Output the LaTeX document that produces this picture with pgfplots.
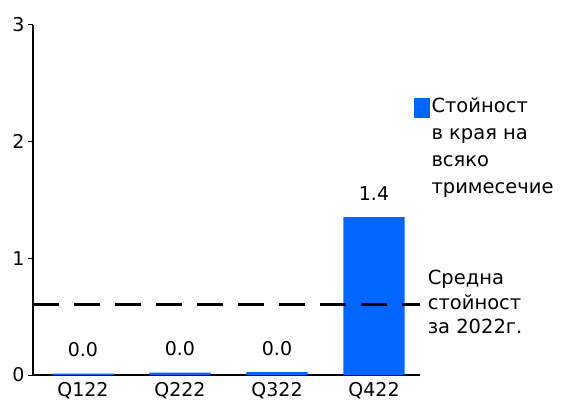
\documentclass[border=0pt]{standalone}
\usepackage{fontspec}
\setmainfont{DejaVu Sans}
\usepackage{pgfplots}
\pgfplotsset{compat=1.18}
\definecolor{barblue}{RGB}{0,102,255}

\begin{document}
\begin{tikzpicture}
\path[use as bounding box] (0,0) rectangle (566bp,400bp);
\begin{axis}[
    at={(33bp,25bp)}, anchor=south west,
    scale only axis, width=387bp, height=350bp,
    xmin=-0.515, xmax=3.474, ymin=0, ymax=3,
    clip=false,
    axis x line*=bottom, axis y line*=left,
    axis line style={-, line width=1.5bp, black},
    ytick={0,1,2,3},
    y tick style={line width=1bp, black},
    tick align=outside, major tick length=5bp,
    xtick={0,1,2,3}, xticklabels={Q122,Q222,Q322,Q422},
    x tick style={draw=none},
    x tick label style={yshift=1bp},
    tick label style={font=\fontsize{19bp}{22bp}\selectfont},
    /pgf/number format/assume math mode=true,
    legend style={at={(0.975,0.805)}, anchor=north west, draw=none, fill=none,
        font=\fontsize{19.5bp}{27bp}\selectfont, cells={align=left}},
    legend cell align=left,
]
\addplot[ybar, bar width=0.63, fill=barblue, draw=none,
    nodes near coords,
    nodes near coords style={font=\fontsize{19bp}{22bp}\selectfont, black, yshift=13bp,
        /pgf/number format/.cd, fixed, fixed zerofill, precision=1, assume math mode=true},
    legend image code/.code={
        \path[fill=none, draw=none] (0bp,-8bp) rectangle (16bp,8bp);
        \fill[barblue, overlay] (0bp,28.5bp) rectangle (16bp,48.5bp);}]
  coordinates {(0,0.012) (1,0.02) (2,0.025) (3,1.354)};
\addlegendentry{Стойност\\в края на\\всяко\\тримесечие}
\addplot[black, line width=3bp, dash pattern=on 26bp off 15bp, forget plot]
  coordinates {(-0.515,0.6) (3.474,0.6)}
  node[pos=1, anchor=west, xshift=3bp, yshift=3bp, align=left, black,
       font=\fontsize{19.5bp}{24.5bp}\selectfont] {Средна\\стойност\\за 2022г.};
\end{axis}
\end{tikzpicture}
\end{document}
